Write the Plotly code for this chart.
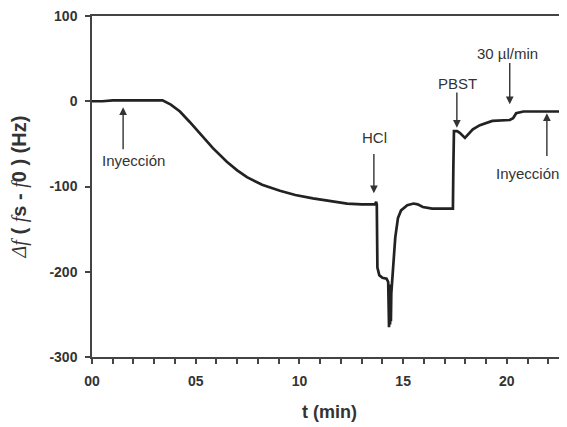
import plotly.graph_objects as go

# ---- data ----
t_min = [0, 0.5, 1.0, 1.5, 2.0, 2.5, 3.0, 3.4, 3.8, 4.24, 4.7, 5.2, 5.83, 6.5, 7.0,
         7.47, 8.2, 9.06, 9.8, 10.65, 11.5, 12.3, 13.0, 13.64, 13.7, 13.73, 13.76,
         13.85, 14.0, 14.2, 14.28, 14.32, 14.35, 14.37, 14.39, 14.41, 14.43, 14.46,
         14.55, 14.62, 14.75, 14.9, 15.2, 15.5, 15.7, 15.95, 16.4, 16.9, 17.4, 17.42,
         17.45, 17.6, 17.73, 17.98, 18.2, 18.36, 18.7, 19.3, 20.14, 20.3, 20.45,
         20.8, 21.5, 22.0, 22.55]
delta_f = [0, 0, 1, 1, 1, 1, 1.5, 1, -4, -12, -24, -38, -55, -71, -81,
           -89, -98, -105, -110, -114, -117, -120, -121, -121, -118, -121, -195,
           -204, -207, -208, -212, -265, -215, -262, -218, -258, -225, -215,
           -195, -160, -137, -128, -122, -120, -121, -124, -126, -126, -126, -80,
           -35, -35, -37, -43, -37, -33, -28, -23, -22, -20, -14,
           -12, -12, -12, -12]

y_ticks = [-300, -200, -100, 0, 100]
y_tick_labels = ["-300", "-200", "-100", "0", "100"]
x_ticks = [0, 5, 10, 15, 20]
x_tick_labels = ["00", "05", "10", "15", "20"]

# event labels: (text, arrow x, arrow tip y, arrow tail y, text x, text y)
events = [
    ("Inyección", 1.5, -7, -58, 1.98, -69),
    ("HCl", 13.59, -108, -60, 13.64, -43),
    ("PBST", 17.59, -31, 12, 17.64, 21),
    ("30 µl/min", 20.14, -3.5, 46.5, 20.05, 56),
    ("Inyección", 21.93, -14, -66, 21.0, -85),
]

FONT = "Arial, Liberation Sans, sans-serif"
INK = "#222222"

fig = go.Figure()
fig.add_trace(go.Scatter(x=t_min, y=delta_f, mode="lines",
                         line=dict(color=INK, width=2.7), showlegend=False,
                         hoverinfo="skip"))

annotations = []
for text, ax_x, tip_y, tail_y, tx, ty in events:
    annotations.append(dict(x=ax_x, y=tip_y, xref="x", yref="y",
                            ax=ax_x, ay=tail_y, axref="x", ayref="y",
                            text="", showarrow=True, arrowhead=2,
                            arrowsize=1.1, arrowwidth=1.4, arrowcolor="#333333"))
    annotations.append(dict(x=tx, y=ty, xref="x", yref="y", text=text,
                            showarrow=False,
                            font=dict(family=FONT, size=15, color="#333333")))

f_it = '<span style="font-family:serif;font-weight:normal"><i>%s</i></span>'
y_title = (f_it % "Δf") + " ( " + (f_it % "f") + "s - " + (f_it % "f") + "0 ) (Hz)"

fig.update_layout(
    width=559, height=419,
    margin=dict(l=84, r=0, t=6, b=70),
    paper_bgcolor="white", plot_bgcolor="white",
    annotations=annotations,
    font=dict(family=FONT, color=INK),
    xaxis=dict(range=[0, 22.9], tickvals=x_ticks, ticktext=x_tick_labels,
               ticks="outside", ticklen=5, tickwidth=1.5, tickcolor="#444",
               minor=dict(dtick=1, ticks="outside", ticklen=5, tickwidth=1.5,
                          tickcolor="#444"),
               showline=True, linecolor="#444", linewidth=1.5, mirror=True,
               showgrid=False, zeroline=False, ticklabelstandoff=5,
               ticklabeloverflow="allow",
               tickfont=dict(family=FONT, size=14, weight="bold", color="#333"),
               title=dict(text="t (min)", standoff=18,
                          font=dict(family=FONT, size=18, weight="bold",
                                    color="#333"))),
    yaxis=dict(range=[-300, 100], tickvals=y_ticks, ticktext=y_tick_labels,
               ticks="outside", ticklen=5, tickwidth=1.5, tickcolor="#444",
               showline=True, linecolor="#444", linewidth=1.5,
               showgrid=False, zeroline=False, ticklabelstandoff=5,
               ticklabeloverflow="allow",
               tickfont=dict(family=FONT, size=14, weight="bold", color="#333"),
               title=dict(text=y_title, standoff=22,
                          font=dict(family=FONT, size=20, weight="bold",
                                    color="#333"))),
)

fig.write_html("out.html")
